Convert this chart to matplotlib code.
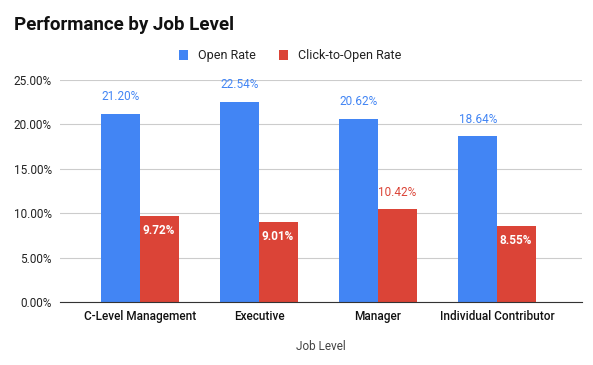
import matplotlib.pyplot as plt
import numpy as np

levels = ["C-Level Management", "Executive", "Manager", "Individual Contributor"]
open_rate = [21.20, 22.54, 20.62, 18.64]
cto_rate = [9.72, 9.01, 10.42, 8.55]
yticks = [0, 5, 10, 15, 20, 25]

blue = "#4285F4"
red = "#DB4437"

plt.rcParams['font.family'] = ['Roboto', 'DejaVu Sans']

fig = plt.figure(figsize=(5.93, 3.65), dpi=100)
ax = fig.add_axes([60 / 593, 1 - 302 / 365, 522 / 593, 222 / 365])

x = np.arange(len(levels))
w = 0.32
b1 = ax.bar(x - w / 2 - 0.004, open_rate, w, color=blue, zorder=3)
b2 = ax.bar(x + w / 2 + 0.004, cto_rate, w, color=red, zorder=3)

# value labels: blue above, red inside unless bar is tall enough
for xi, v in zip(x, open_rate):
    ax.text(xi - w / 2, v + 1.2, "%.2f%%" % v, ha="center", va="bottom",
            color=blue, fontsize=8.5)
for xi, v in zip(x, cto_rate):
    if v > 10:
        ax.text(xi + w / 2, v + 1.2, "%.2f%%" % v, ha="center", va="bottom",
                color=red, fontsize=8.5)
    else:
        ax.text(xi + w / 2, v - 0.9, "%.2f%%" % v, ha="center", va="top",
                color="white", fontsize=8.5, fontweight="bold")

ax.set_xlim(-0.672, 3.714)
ax.set_ylim(0, 25)
ax.set_yticks(yticks)
ax.set_yticklabels(["%.2f%%" % t for t in yticks], fontsize=8.5, color="#222222")
ax.set_xticks(x)
ax.set_xticklabels(levels, fontsize=8.5, color="#111111", fontweight="medium")
ax.tick_params(length=0, pad=6)
ax.grid(axis="y", color="#cccccc", linewidth=0.8, zorder=0)
for s in ["top", "right", "left"]:
    ax.spines[s].set_visible(False)
ax.spines["bottom"].set_color("#333333")
ax.spines["bottom"].set_zorder(4)
ax.set_xlabel("Job Level", fontsize=8.5, color="#444444", labelpad=12)

fig.text(14 / 593, 1 - 25 / 365, "Performance by Job Level", fontsize=13.5,
         fontweight="bold", va="center", ha="left", color="#111111")
leg = fig.legend([b1, b2], ["Open Rate", "Click-to-Open Rate"], loc="center",
                 bbox_to_anchor=(290 / 593, 1 - 56 / 365), ncol=2, frameon=False,
                 fontsize=9, handlelength=0.75, handleheight=0.9,
                 columnspacing=1.8, handletextpad=0.8)
for t in leg.get_texts():
    t.set_color("#222222")

fig.savefig("out.png", dpi=100)
